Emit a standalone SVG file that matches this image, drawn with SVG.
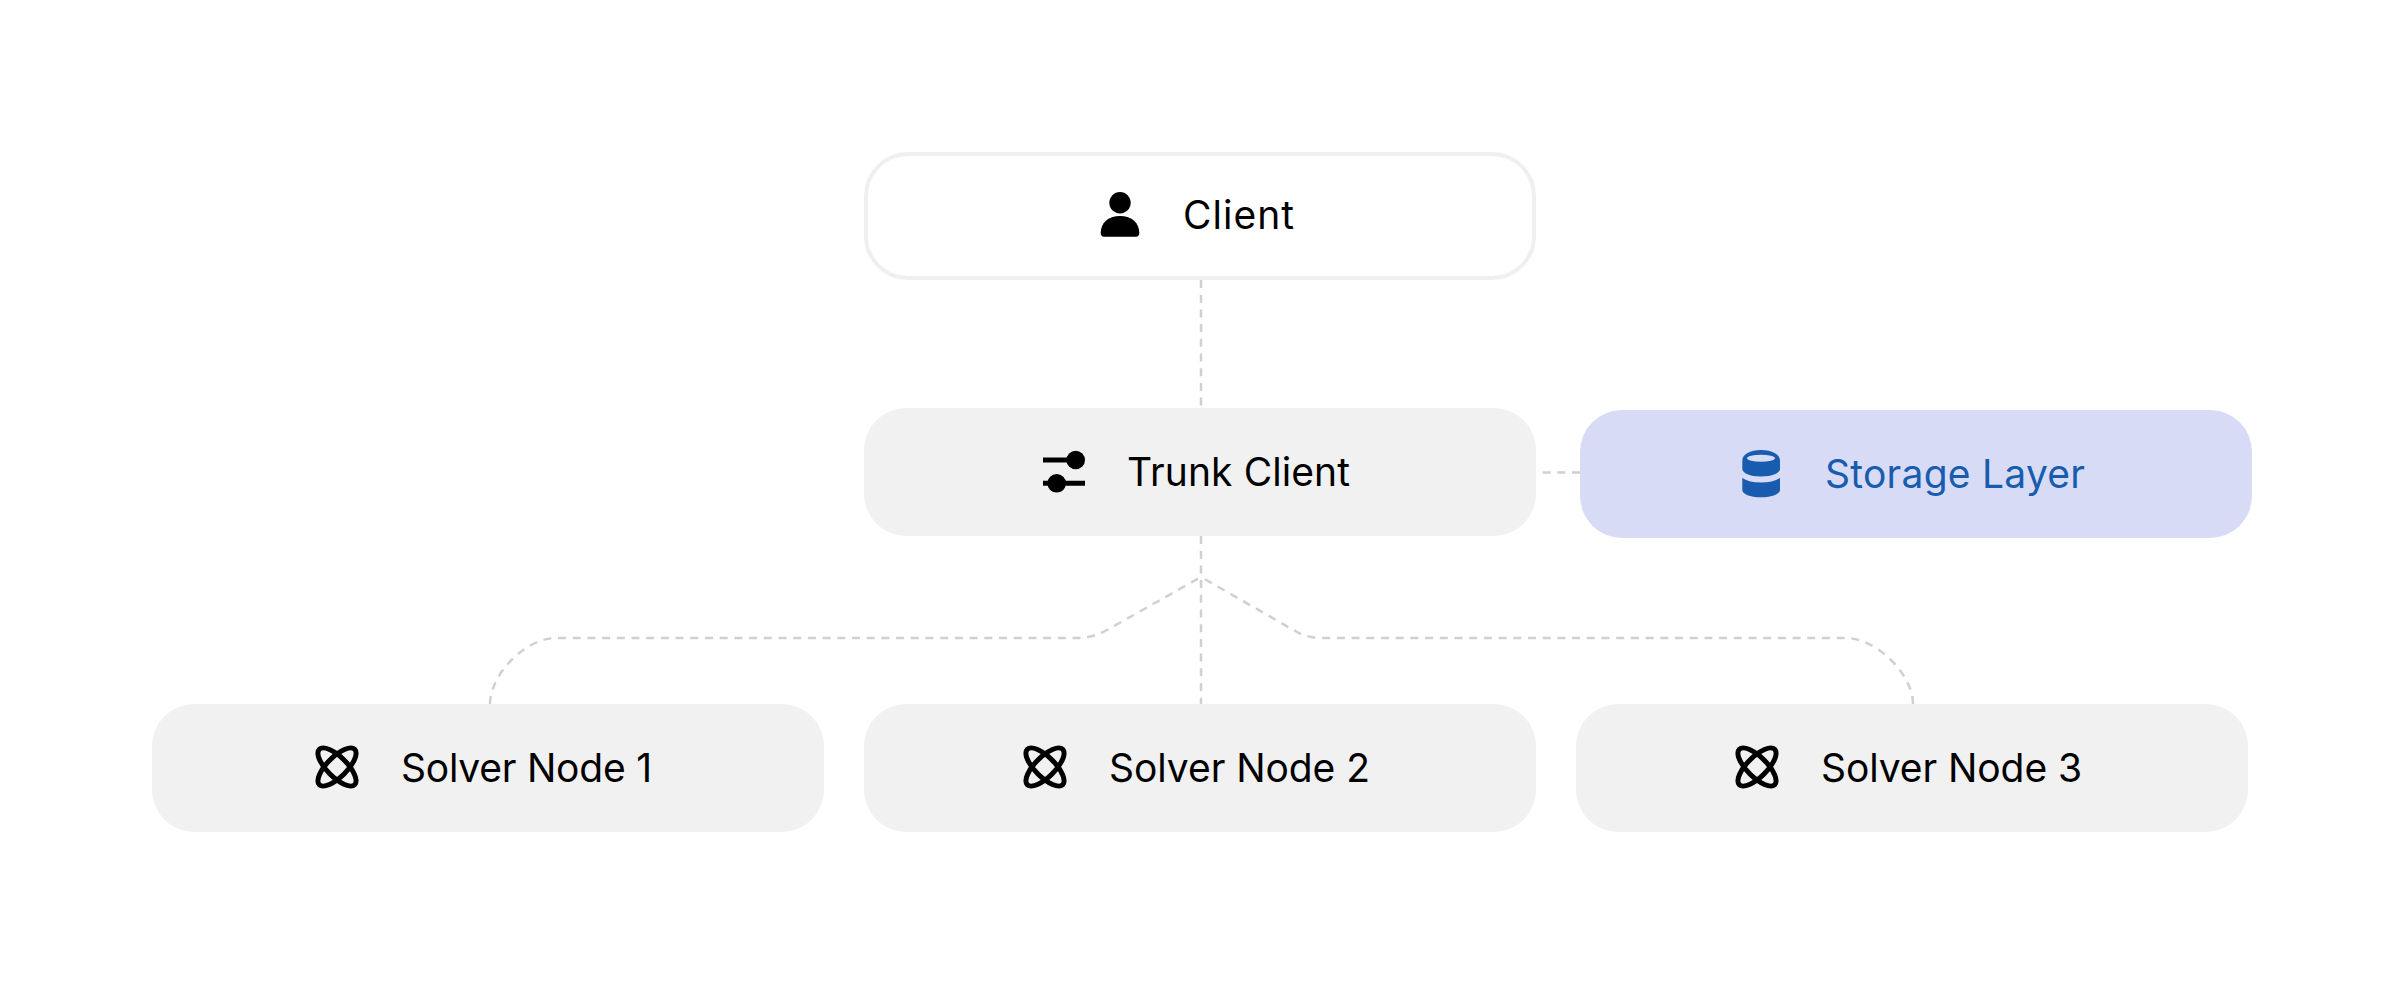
<svg xmlns="http://www.w3.org/2000/svg" width="2400" height="984" viewBox="0 0 2400 984">
<style>
.box{fill:#f1f1f1}
.label{font-family:"Inter","Liberation Sans",sans-serif;font-size:39px;font-weight:430;fill:#000}
.conn{fill:none;stroke:#d0d0d0;stroke-width:2.5;stroke-dasharray:8 6.700}
.orbit{fill:none;stroke:#000;stroke-width:5}
</style>
<defs>
<g id="atom">
<ellipse class="orbit" rx="25" ry="10" transform="rotate(45)"/>
<ellipse class="orbit" rx="25" ry="10" transform="rotate(-45)"/>
</g>
</defs>
<rect width="2400" height="984" fill="#fff"/>
<g id="connectors">
<path class="conn" d="M1201 280V408"/>
<path class="conn" d="M1201 536V704"/>
<path class="conn" d="M1580 472.500H1540"/>
<path class="conn" d="M490 704C490 674 526 638 556 638H1077Q1093 638 1107 630L1201 577"/>
<path class="conn" d="M1913 704C1913 674 1876 638 1846 638H1322Q1307 638 1297 632L1201 577"/>
</g>
<g id="client">
<rect x="866" y="154" width="668" height="124" rx="42" fill="#fff" stroke="#efefef" stroke-width="4"/>
<circle cx="1120" cy="202.700" r="10.700"/>
<path d="M1100.700 233C1100.700 223 1108 216 1120 216S1139.300 223 1139.300 233C1139.300 235.500 1138 236.700 1136 236.700H1104C1102 236.700 1100.700 235.500 1100.700 233Z"/>
<text class="label" x="1183" y="229" textLength="111">Client</text>
</g>
<g id="trunk-client">
<rect class="box" x="864" y="408" width="672" height="128" rx="42"/>
<path d="M1043 460H1076M1043 483.300H1085" stroke="#000" stroke-width="5" fill="none"/>
<circle cx="1075.700" cy="460" r="9.300"/>
<circle cx="1056.700" cy="483.300" r="9.300"/>
<text class="label" x="1127" y="486" textLength="223">Trunk Client</text>
</g>
<g id="storage-layer">
<rect x="1580" y="410" width="672" height="128" rx="42" fill="#d8dbf5"/>
<path fill="#175cae" fill-rule="evenodd" d="M1742.300 461C1742.300 454 1750 450 1761 450S1780 454 1780 461V469C1780 473 1772 476.500 1761 476.500S1742.300 473 1742.300 469ZM1747 458.300A14 3.500 0 0 0 1775 458.300A14 3.500 0 0 0 1747 458.300Z"/>
<path fill="#175cae" d="M1742.300 478C1747 481 1753 482.500 1761 482.500S1775 481 1780 478V490C1780 494 1772 497.300 1761 497.300S1742.300 494 1742.300 490Z"/>
<text class="label" x="1825" y="487.500" textLength="260" style="fill:#175cae">Storage Layer</text>
</g>
<g id="solver-node-1">
<rect class="box" x="152" y="704" width="672" height="128" rx="42"/>
<use href="#atom" x="337" y="767"/>
<text class="label" x="401" y="781.500" textLength="251">Solver Node 1</text>
</g>
<g id="solver-node-2">
<rect class="box" x="864" y="704" width="672" height="128" rx="42"/>
<use href="#atom" x="1045" y="767"/>
<text class="label" x="1109" y="781.500" textLength="261">Solver Node 2</text>
</g>
<g id="solver-node-3">
<rect class="box" x="1576" y="704" width="672" height="128" rx="42"/>
<use href="#atom" x="1757" y="767"/>
<text class="label" x="1821" y="781.500" textLength="261">Solver Node 3</text>
</g>
</svg>
